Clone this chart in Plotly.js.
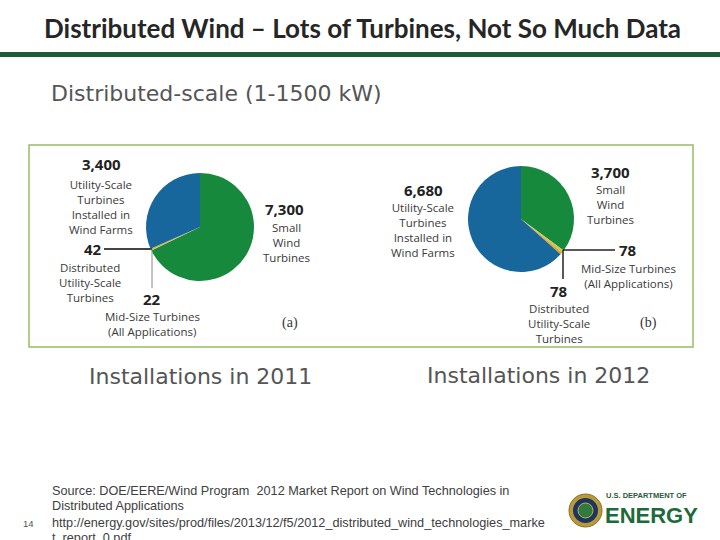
<!DOCTYPE html>
<html>
<head>
<meta charset="utf-8">
<script src="https://cdn.plot.ly/plotly-3.0.1.min.js"></script>
<style>
  html, body { margin: 0; padding: 0; background: #ffffff; }
  #chart { width: 720px; height: 540px; }
</style>
</head>
<body>
<div id="chart"></div>
<script>
// ---- Data ----
const categories = [
  'Small Wind Turbines',
  'Mid-Size Turbines (All Applications)',
  'Distributed Utility-Scale Turbines',
  'Utility-Scale Turbines Installed in Wind Farms'
];
const values2011 = [7300, 22, 42, 3400];
const values2012 = [3700, 78, 78, 6680];
const sliceColors = ['#17893d', '#c9c75a', '#e3a52a', '#17679c'];
const yearLabels = ['Installations in 2011', 'Installations in 2012'];

// ---- helpers: pixel -> paper ----
const W = 720, H = 540;
const px = x => x / W;
const py = y => 1 - y / H;

const pieBase = {
  type: 'pie',
  labels: categories,
  sort: false,
  direction: 'clockwise',
  rotation: 0,
  textinfo: 'none',
  hoverinfo: 'label+value',
  showlegend: false,
  marker: { colors: sliceColors, line: { width: 0 } }
};

const data = [
  Object.assign({}, pieBase, {
    values: values2011,
    domain: { x: [px(146), px(254)], y: [py(281), py(173)] }
  }),
  Object.assign({}, pieBase, {
    values: values2012,
    domain: { x: [px(468), px(574)], y: [py(272), py(166)] }
  })
];

const fmt = v => v.toLocaleString('en-US');
const labelFont = { family: 'Open Sans, DejaVu Sans, sans-serif', size: 11.5, color: '#3a3a3a' };
const numFont = { family: 'Open Sans, DejaVu Sans, sans-serif', size: 15, color: '#222222', weight: 700 };
const captionFont = { family: 'DejaVu Sans, sans-serif', size: 22, color: '#555555' };
const footFont = { family: 'Liberation Sans, Arial, sans-serif', size: 12.7, color: '#404040' };

function num(x, y, v) {
  return { x: px(x), y: py(y), xref: 'paper', yref: 'paper', text: '<b>' + fmt(v) + '</b>',
    showarrow: false, font: numFont, xanchor: 'center', yanchor: 'middle' };
}
function lbl(x, y, t, xa) {
  return { x: px(x), y: py(y), xref: 'paper', yref: 'paper', text: t,
    showarrow: false, font: labelFont, xanchor: xa || 'center', yanchor: 'top' };
}
function txt(x, y, t, font, xa, ya) {
  return { x: px(x), y: py(y), xref: 'paper', yref: 'paper', text: t, showarrow: false,
    font: font, xanchor: xa || 'left', yanchor: ya || 'middle' };
}

const annotations = [
  // main title
  txt(362, 28, '<b>Distributed Wind – Lots of Turbines, Not So Much Data</b>',
      { family: 'Lato, Open Sans, sans-serif', size: 26, color: '#262626' }, 'center'),
  txt(49, 93, 'Distributed-scale (1-1500 kW)', captionFont),

  // pie a labels
  num(101, 164, values2011[3]),
  lbl(101, 175, 'Utility-Scale<br>Turbines<br>Installed in<br>Wind Farms'),
  num(284, 209, values2011[0]),
  lbl(286, 218, 'Small<br>Wind<br>Turbines'),
  num(93, 249, values2011[2]),
  lbl(90, 258, 'Distributed<br>Utility-Scale<br>Turbines'),
  num(152, 299, values2011[1]),
  lbl(152, 307, 'Mid-Size Turbines'),
  lbl(152, 322, '(All Applications)'),
  txt(290, 323, '(a)', { family: 'Liberation Serif, serif', size: 14, color: '#333333' }, 'center'),

  // pie b labels
  num(423, 190, values2012[3]),
  lbl(423, 198, 'Utility-Scale<br>Turbines<br>Installed in<br>Wind Farms'),
  num(610, 172, values2012[0]),
  lbl(610, 180, 'Small<br>Wind<br>Turbines'),
  num(628, 250, values2012[1]),
  lbl(628, 259, 'Mid-Size Turbines<br>(All Applications)'),
  num(559, 291, values2012[2]),
  lbl(559, 299, 'Distributed<br>Utility-Scale<br>Turbines'),
  txt(648, 323, '(b)', { family: 'Liberation Serif, serif', size: 14, color: '#333333' }, 'center'),

  // year captions
  txt(200, 376, yearLabels[0], captionFont, 'center'),
  txt(538, 375, yearLabels[1], captionFont, 'center'),

  // footer
  txt(50, 491, 'Source: DOE/EERE/Wind Program  2012 Market Report on Wind Technologies in', footFont),
  txt(50, 506, 'Distributed Applications', footFont),
  txt(50, 523, 'http://energy.gov/sites/prod/files/2013/12/f5/2012_distributed_wind_technologies_marke', footFont),
  txt(50, 538, 't_report_0.pdf', footFont),
  txt(21, 523, '14', { family: 'Liberation Sans, Arial, sans-serif', size: 9.5, color: '#555555' }),

  // logo text
  txt(604, 495, '<b>U.S. DEPARTMENT OF</b>', { family: 'Liberation Sans, Arial, sans-serif', size: 7.5, color: '#2b5a3a' }),
  txt(603, 515, '<b>ENERGY</b>', { family: 'Liberation Sans, Arial, sans-serif', size: 22, color: '#1e6a3a' })
];

const shapes = [
  // green rule under title
  { type: 'line', xref: 'paper', yref: 'paper', x0: 0, x1: 1, y0: py(54.5), y1: py(54.5),
    line: { color: '#1f5a39', width: 5 } },
  // image frame
  { type: 'rect', xref: 'paper', yref: 'paper', x0: px(29), x1: px(693), y0: py(347), y1: py(145),
    line: { color: '#95bd63', width: 1.5 } },
  // leader lines pie a
  { type: 'line', xref: 'paper', yref: 'paper', x0: px(104), x1: px(152), y0: py(249), y1: py(249),
    line: { color: '#444444', width: 2 } },
  { type: 'line', xref: 'paper', yref: 'paper', x0: px(152), x1: px(152), y0: py(249), y1: py(288),
    line: { color: '#888888', width: 1 } },
  // leader lines pie b
  { type: 'line', xref: 'paper', yref: 'paper', x0: px(563), x1: px(615), y0: py(250), y1: py(250),
    line: { color: '#222222', width: 1.5 } },
  { type: 'line', xref: 'paper', yref: 'paper', x0: px(563), x1: px(563), y0: py(250), y1: py(279),
    line: { color: '#222222', width: 1.5 } },
  // DOE seal
  { type: 'circle', xref: 'paper', yref: 'paper', x0: px(569), x1: px(602), y0: py(527), y1: py(494),
    fillcolor: '#b89a3a', line: { color: '#8a7020', width: 1 } },
  { type: 'circle', xref: 'paper', yref: 'paper', x0: px(573), x1: px(598), y0: py(523), y1: py(498),
    fillcolor: '#1d3560', line: { width: 0 } },
  { type: 'circle', xref: 'paper', yref: 'paper', x0: px(578), x1: px(593), y0: py(518), y1: py(503),
    fillcolor: '#2f7a3c', line: { color: '#c8b050', width: 1 } }
];

const layout = {
  width: W, height: H,
  margin: { l: 0, r: 0, t: 0, b: 0 },
  paper_bgcolor: '#ffffff',
  plot_bgcolor: '#ffffff',
  showlegend: false,
  annotations: annotations,
  shapes: shapes
};

Plotly.newPlot('chart', data, layout, { displayModeBar: false, staticPlot: true });
</script>
</body>
</html>
